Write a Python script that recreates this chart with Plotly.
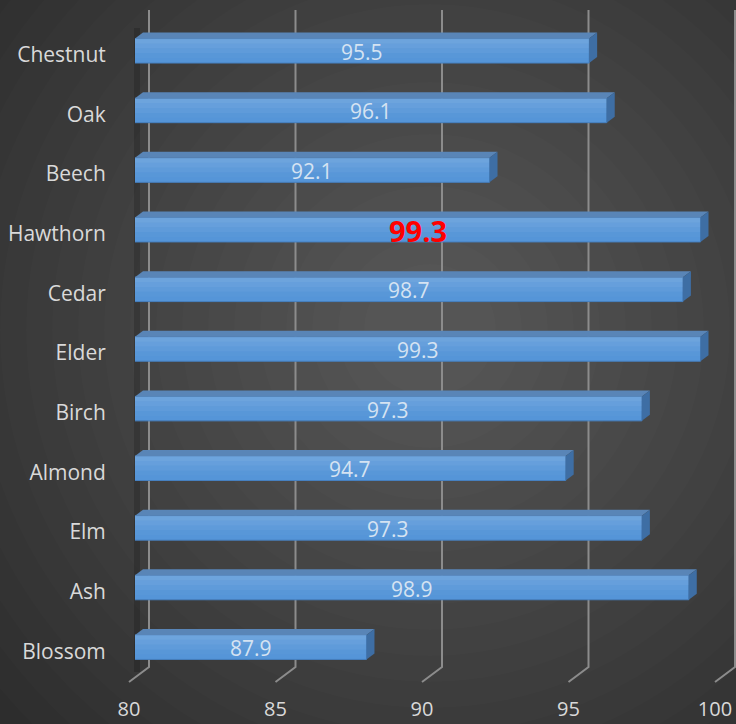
import plotly.graph_objects as go

# ---------------- data ----------------
categories = ["Chestnut", "Oak", "Beech", "Hawthorn", "Cedar", "Elder",
              "Birch", "Almond", "Elm", "Ash", "Blossom"]
values = [95.5, 96.1, 92.1, 99.3, 98.7, 99.3, 97.3, 94.7, 97.3, 98.9, 87.9]
highlight = "Hawthorn"
x_ticks = [80, 85, 90, 95, 100]
x_tick_labels = ["80", "85", "90", "95", "100"]

# ---------------- geometry / style ----------------
W, H = 736, 724
S = 29.3                     # px per unit
FRONT_X, BACK_X, LABEL_X = 135, 149, 129
PLOT_TOP, PLOT_BOT = 21, 677
GRID_TOP, GRID_KINK, GRID_FLOOR = 10, 667, 682
DEPTH_X, DEPTH_Y = 8, 6
BAR_W = 0.41
FONT = "Open Sans"
AXIS_MIN = 80
LABEL_DROP_PX = 4

bar_range = [AXIS_MIN, AXIS_MIN + (W - FRONT_X) / S]
back_range = [AXIS_MIN - BACK_X / S, AXIS_MIN + (W - BACK_X) / S]
label_range = [AXIS_MIN - LABEL_X / S, AXIS_MIN + (W - LABEL_X) / S]
n = len(categories)
pitch = (PLOT_BOT - PLOT_TOP) / n
dxu = DEPTH_X / S
dyu = DEPTH_Y / pitch
drop = LABEL_DROP_PX / pitch

FRONT_C = "#5595d8"
TOP_C = "#5985b7"
SIDE_C = "#3e6ea4"
EDGE_C = "#4680c0"

fig = go.Figure()

# back-wall gridlines with floor returns (subplot x/y, drawn first)
gx, gy = [], []
for t in x_ticks:
    gx += [t, t, t - (BACK_X - LABEL_X) / S, None]
    gy += [GRID_TOP, GRID_KINK, GRID_FLOOR, None]
fig.add_trace(go.Scatter(x=gx, y=gy, mode="lines", xaxis="x", yaxis="y",
                         line=dict(color="#8c8c8c", width=2),
                         hoverinfo="skip", showlegend=False))
# invisible anchor trace for the tick-label axis
fig.add_trace(go.Scatter(x=x_ticks, y=[GRID_FLOOR] * len(x_ticks), mode="markers",
                         xaxis="x3", yaxis="y", marker=dict(opacity=0),
                         hoverinfo="skip", showlegend=False))

# bars
fig.add_trace(go.Bar(
    y=categories, x=values, orientation="h", xaxis="x2", yaxis="y2",
    width=BAR_W, marker=dict(color=FRONT_C, line=dict(color=EDGE_C, width=1)),
    showlegend=False, hoverinfo="skip"))
# invisible anchor trace for the category-label axis
fig.add_trace(go.Scatter(x=values, y=categories, mode="markers",
                         xaxis="x2", yaxis="y4", marker=dict(opacity=0),
                         hoverinfo="skip", showlegend=False))

shapes = []
# background radial gradient
cx, cy = 430 / W, 1 - 330 / H
n_rings = 20
for k in range(n_rings):
    r = 560 - k * (520 / n_rings)
    shapes.append(dict(type="circle", xref="paper", yref="paper",
                       x0=cx - r / W, x1=cx + r / W, y0=cy - r / H, y1=cy + r / H,
                       fillcolor="rgba(255,255,255,0.010)", line=dict(width=0),
                       layer="below"))
# soft shadow at the left wall
shapes.append(dict(type="rect", xref="paper", yref="paper",
                   x0=(FRONT_X - 1) / W, x1=(FRONT_X + 5) / W,
                   y0=1 - 672 / H, y1=1 - 28 / H,
                   fillcolor="rgba(0,0,0,0.17)", line=dict(width=0), layer="below"))

# 3D faces of bars + front-face shading
bands = [(0.00, 0.20, 0.14), (0.20, 0.40, 0.10), (0.40, 0.60, 0.06), (0.60, 0.80, 0.02)]
for i, v in enumerate(values):
    yt = i - BAR_W / 2
    yb = i + BAR_W / 2
    for f0, f1, a in bands:
        shapes.append(dict(type="rect", xref="x2", yref="y2",
                           x0=AXIS_MIN, x1=v, y0=yt + f0 * BAR_W, y1=yt + f1 * BAR_W,
                           fillcolor=f"rgba(255,255,255,{a})", line=dict(width=0),
                           layer="above"))
    top = (f"M {AXIS_MIN},{yt} L {v},{yt} L {v + dxu},{yt - dyu} "
           f"L {AXIS_MIN + dxu},{yt - dyu} Z")
    side = (f"M {v},{yt} L {v + dxu},{yt - dyu} L {v + dxu},{yb - dyu} "
            f"L {v},{yb} Z")
    shapes.append(dict(type="path", path=top, xref="x2", yref="y2",
                       fillcolor=TOP_C, line=dict(width=0), layer="above"))
    shapes.append(dict(type="path", path=side, xref="x2", yref="y2",
                       fillcolor=SIDE_C, line=dict(width=0), layer="above"))

# value labels centred on the visible part of each bar
annotations = []
for c, v in zip(categories, values):
    if c == highlight:
        txt, col, size = f"<b>{v:.1f}</b>", "#ff0000", 29
    else:
        txt, col, size = f"{v:.1f}", "#d5e3f2", 21
    annotations.append(dict(x=(AXIS_MIN + v) / 2, y=c, xref="x2", yref="y2",
                            text=txt, showarrow=False, xanchor="center",
                            yanchor="middle", yshift=-1,
                            font=dict(family=FONT, color=col, size=size)))

y_dom = [1 - PLOT_BOT / H, 1 - PLOT_TOP / H]
fig.update_layout(
    width=W, height=H,
    margin=dict(l=0, r=0, t=0, b=0, autoexpand=False),
    paper_bgcolor="#2d2d2d", plot_bgcolor="rgba(0,0,0,0)",
    font=dict(family=FONT, color="#d9d9d9", size=21),
    shapes=shapes, annotations=annotations,
    xaxis=dict(domain=[0, 1], range=back_range, anchor="y", visible=False,
               automargin=False, fixedrange=True),
    yaxis=dict(domain=[0, 1], range=[H, 0], anchor="x", visible=False,
               automargin=False, fixedrange=True),
    xaxis2=dict(domain=[FRONT_X / W, 1], range=bar_range, anchor="y2",
                visible=False, automargin=False, fixedrange=True),
    yaxis2=dict(domain=y_dom, anchor="x2",
                type="category", categoryorder="array", categoryarray=categories,
                range=[n - 0.5, -0.5], showticklabels=False,
                showgrid=False, zeroline=False, showline=False,
                automargin=False, fixedrange=True),
    yaxis4=dict(overlaying="y2", anchor="x2",
                type="category", categoryorder="array", categoryarray=categories,
                range=[n - 0.5 - drop, -0.5 - drop],
                showgrid=False, zeroline=False, showline=False,
                ticks="outside", ticklen=24, tickcolor="rgba(0,0,0,0)",
                tickfont=dict(family=FONT, size=21, color="#d9d9d9"),
                automargin=False, fixedrange=True),
    xaxis3=dict(overlaying="x", range=label_range, anchor="free",
                position=1 - GRID_FLOOR / H, side="bottom",
                tickmode="array", tickvals=x_ticks, ticktext=x_tick_labels,
                showgrid=False, zeroline=False, showline=False,
                ticks="outside", ticklen=9, tickcolor="rgba(0,0,0,0)",
                tickfont=dict(family=FONT, size=20, color="#d9d9d9"),
                automargin=False, fixedrange=True),
)

fig.write_html("out.html",
               post_script="document.body.style.margin='0';"
                           "document.body.style.overflow='hidden';",
               config={"displayModeBar": False})
